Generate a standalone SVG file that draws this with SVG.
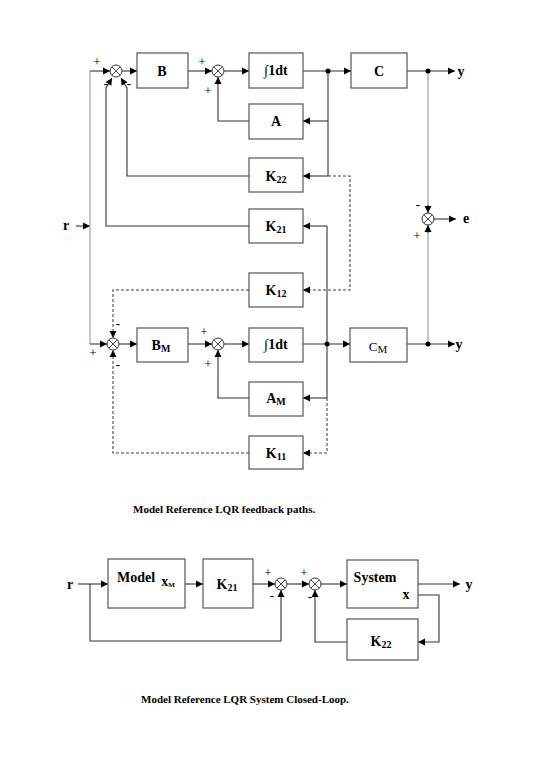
<svg xmlns="http://www.w3.org/2000/svg" width="540" height="780" viewBox="0 0 540 780">
<style>
.box{fill:#fff;stroke:#555;stroke-width:1.2}
.ln{fill:none;stroke:#333;stroke-width:1.1}
.lg{fill:none;stroke:#aaa;stroke-width:1.3}
.dl{fill:none;stroke:#444;stroke-width:1.1;stroke-dasharray:3,2}
.sum circle{fill:#fff;stroke:#333;stroke-width:1}
.sum path{stroke:#333;stroke-width:0.9}
.t{font-family:"Liberation Serif",serif;font-weight:bold;font-size:14px;fill:#000;text-anchor:middle}
.s{font-family:"Liberation Serif",serif;font-size:13px;fill:#000;text-anchor:middle}
.cap{font-family:"Liberation Serif",serif;font-weight:bold;font-size:11px;fill:#000}
</style>
<defs>
<marker id="ar" markerWidth="8" markerHeight="8" refX="7" refY="4" orient="auto" markerUnits="userSpaceOnUse">
<path d="M0,0.5 L7,4 L0,7.5 z" fill="#000"/>
</marker>
</defs>

<g id="connectors">
<line class="ln" x1="76" y1="226" x2="90" y2="226" marker-end="url(#ar)"/>
<line class="lg" x1="90" y1="71" x2="90" y2="344"/>
<line class="ln" x1="90" y1="71" x2="110" y2="71" marker-end="url(#ar)"/>
<line class="ln" x1="122" y1="71" x2="137" y2="71" marker-end="url(#ar)"/>
<line class="ln" x1="188" y1="71" x2="212" y2="71" marker-end="url(#ar)"/>
<line class="ln" x1="224" y1="71" x2="249" y2="71" marker-end="url(#ar)"/>
<line class="ln" x1="303" y1="71" x2="351" y2="71" marker-end="url(#ar)"/>
<line class="ln" x1="407" y1="71" x2="455" y2="71" marker-end="url(#ar)"/>
<line class="ln" x1="328" y1="71" x2="328" y2="176"/>
<line class="ln" x1="328" y1="121" x2="303" y2="121" marker-end="url(#ar)"/>
<line class="ln" x1="328" y1="176" x2="303" y2="176" marker-end="url(#ar)"/>
<polyline class="ln" points="249,121 218,121 218,77" marker-end="url(#ar)"/>
<polyline class="ln" points="249,176 127,176 127,88 121,78" marker-end="url(#ar)"/>
<polyline class="ln" points="249,226 106,226 106,88 112,78" marker-end="url(#ar)"/>
<polyline class="dl" points="328,176 350,176 350,290 303,290" marker-end="url(#ar)"/>
<polyline class="dl" points="249,290 113,290 113,338" marker-end="url(#ar)"/>
<line class="ln" x1="327" y1="226" x2="327" y2="398"/>
<line class="ln" x1="327" y1="226" x2="303" y2="226" marker-end="url(#ar)"/>
<line class="ln" x1="90" y1="344" x2="107" y2="344" marker-end="url(#ar)"/>
<line class="ln" x1="119" y1="344" x2="137" y2="344" marker-end="url(#ar)"/>
<line class="ln" x1="188" y1="344" x2="212" y2="344" marker-end="url(#ar)"/>
<line class="ln" x1="224" y1="344" x2="249" y2="344" marker-end="url(#ar)"/>
<line class="ln" x1="303" y1="344" x2="350" y2="344" marker-end="url(#ar)"/>
<line class="ln" x1="407" y1="344" x2="455" y2="344" marker-end="url(#ar)"/>
<line class="ln" x1="327" y1="398" x2="303" y2="398" marker-end="url(#ar)"/>
<polyline class="ln" points="249,398 218,398 218,350" marker-end="url(#ar)"/>
<polyline class="dl" points="327,398 327,453 303,453" marker-end="url(#ar)"/>
<polyline class="dl" points="249,453 113,453 113,350" marker-end="url(#ar)"/>
<line class="lg" x1="428" y1="71" x2="428" y2="206"/>
<line class="ln" x1="428" y1="205" x2="428" y2="213" marker-end="url(#ar)"/>
<line class="lg" x1="428" y1="344" x2="428" y2="232"/>
<line class="ln" x1="428" y1="233" x2="428" y2="225" marker-end="url(#ar)"/>
<line class="ln" x1="434" y1="219" x2="456" y2="219" marker-end="url(#ar)"/>
<circle cx="328" cy="71" r="2.5" fill="#000"/>
<circle cx="428" cy="71" r="2.5" fill="#000"/>
<circle cx="327" cy="344" r="2.5" fill="#000"/>
<circle cx="428" cy="344" r="2.5" fill="#000"/>

<line class="ln" x1="78" y1="584" x2="108" y2="584" marker-end="url(#ar)"/>
<line class="ln" x1="185" y1="584" x2="203" y2="584" stroke-width="2" marker-end="url(#ar)"/>
<line class="ln" x1="253" y1="584" x2="275" y2="584" marker-end="url(#ar)"/>
<polyline class="ln" points="90,584 90,641 281,641 281,590" marker-end="url(#ar)"/>
<line class="ln" x1="287" y1="584" x2="309" y2="584" marker-end="url(#ar)"/>
<line class="ln" x1="321" y1="584" x2="347" y2="584" marker-end="url(#ar)"/>
<line class="ln" x1="418" y1="584" x2="460" y2="584" stroke-width="2" marker-end="url(#ar)"/>
<polyline class="ln" points="418,595 439,595 439,642 418,642" marker-end="url(#ar)"/>
<polyline class="ln" points="347,642 315,642 315,590" marker-end="url(#ar)"/>
</g>

<g id="S1" class="sum"><circle cx="116" cy="71" r="6"/><path d="M111.8,66.8 L120.2,75.2 M120.2,66.8 L111.8,75.2"/></g>
<g id="S2" class="sum"><circle cx="218" cy="71" r="6"/><path d="M213.8,66.8 L222.2,75.2 M222.2,66.8 L213.8,75.2"/></g>
<g id="Se" class="sum"><circle cx="428" cy="219" r="6"/><path d="M423.8,214.8 L432.2,223.2 M432.2,214.8 L423.8,223.2"/></g>
<g id="S3" class="sum"><circle cx="113" cy="344" r="6"/><path d="M108.8,339.8 L117.2,348.2 M117.2,339.8 L108.8,348.2"/></g>
<g id="S4" class="sum"><circle cx="218" cy="344" r="6"/><path d="M213.8,339.8 L222.2,348.2 M222.2,339.8 L213.8,348.2"/></g>
<g id="S5" class="sum"><circle cx="281" cy="584" r="6"/><path d="M276.8,579.8 L285.2,588.2 M285.2,579.8 L276.8,588.2"/></g>
<g id="S6" class="sum"><circle cx="315" cy="584" r="6"/><path d="M310.8,579.8 L319.2,588.2 M319.2,579.8 L310.8,588.2"/></g>

<g id="signs">
<text class="s" x="97" y="66">+</text>
<text class="s" x="106" y="88" font-weight="bold">-</text>
<text class="s" x="129" y="88" font-weight="bold">-</text>
<text class="s" x="202" y="66">+</text>
<text class="s" x="208" y="95">+</text>
<text class="s" x="118" y="328" font-weight="bold">-</text>
<text class="s" x="93" y="357">+</text>
<text class="s" x="118" y="369" font-weight="bold">-</text>
<text class="s" x="204" y="336">+</text>
<text class="s" x="208" y="368">+</text>
<text class="s" x="418" y="209" font-weight="bold">-</text>
<text class="s" x="417" y="240">+</text>
<text class="s" x="268" y="577" fill="#999">+</text>
<text class="s" x="272" y="600" font-weight="bold">-</text>
<text class="s" x="304" y="577" fill="#999">+</text>
<text class="s" x="310" y="601" font-weight="bold">-</text>
</g>

<g id="labels">
<text class="t" x="66" y="230">r</text>
<text class="t" x="461" y="76" font-weight="normal" font-size="16">y</text>
<text class="t" x="466" y="223">e</text>
<text class="t" x="459" y="349" font-size="16">y</text>
<text class="t" x="70" y="589" font-weight="normal">r</text>
<text class="t" x="469" y="589" font-size="15">y</text>
</g>

<g id="B"><rect class="box" x="137" y="53" width="51" height="35"/><text class="t" x="162" y="76" font-size="15">B</text></g>
<g id="Int1"><rect class="box" x="249" y="53" width="54" height="35"/><text class="t" x="276" y="75" font-size="12">∫1dt</text></g>
<g id="C"><rect class="box" x="351" y="53" width="56" height="35"/><text class="t" x="379" y="76" font-size="16">C</text></g>
<g id="A"><rect class="box" x="249" y="104" width="54" height="35"/><text class="t" x="276" y="126">A</text></g>
<g id="K22"><rect class="box" x="249" y="158" width="54" height="34"/><text class="t" x="276" y="181">K<tspan font-size="10" dy="2">22</tspan></text></g>
<g id="K21"><rect class="box" x="249" y="209" width="54" height="34"/><text class="t" x="276" y="231">K<tspan font-size="10" dy="2">21</tspan></text></g>
<g id="K12"><rect class="box" x="249" y="273" width="54" height="34"/><text class="t" x="276" y="295">K<tspan font-size="10" dy="2">12</tspan></text></g>
<g id="BM"><rect class="box" x="137" y="328" width="51" height="34"/><text class="t" x="161" y="350" font-size="15">B<tspan font-size="10" dy="2">M</tspan></text></g>
<g id="Int2"><rect class="box" x="249" y="328" width="54" height="34"/><text class="t" x="276" y="349" font-size="12">∫1dt</text></g>
<g id="CM"><rect class="box" x="350" y="328" width="57" height="34"/><text class="s" x="378" y="351" font-size="16">C<tspan font-size="11" dy="2">M</tspan></text></g>
<g id="AM"><rect class="box" x="249" y="382" width="54" height="34"/><text class="t" x="276" y="403">A<tspan font-size="10" dy="2">M</tspan></text></g>
<g id="K11"><rect class="box" x="249" y="436" width="54" height="33"/><text class="t" x="276" y="458">K<tspan font-size="10" dy="2">11</tspan></text></g>

<text class="cap" x="133" y="513" font-size="12">Model Reference LQR feedback paths.</text>

<g id="Model"><rect class="box" x="108" y="559" width="77" height="49"/><text class="t" x="136" y="582">Model</text><text class="t" x="168" y="586" font-size="9">x<tspan font-size="7" dy="1">M</tspan></text></g>
<g id="K21b"><rect class="box" x="203" y="559" width="50" height="49"/><text class="t" x="227" y="589" font-size="15">K<tspan font-size="10" dy="2">21</tspan></text></g>
<g id="System"><rect class="box" x="347" y="560" width="71" height="48"/><text class="t" x="375" y="582" font-size="13">System</text><text class="t" x="406" y="599" font-size="10">x</text></g>
<g id="K22b"><rect class="box" x="347" y="619" width="71" height="41"/><text class="t" x="381" y="646" font-size="15">K<tspan font-size="10" dy="2">22</tspan></text></g>

<text class="cap" x="141" y="703">Model Reference LQR System Closed-Loop.</text>
</svg>
